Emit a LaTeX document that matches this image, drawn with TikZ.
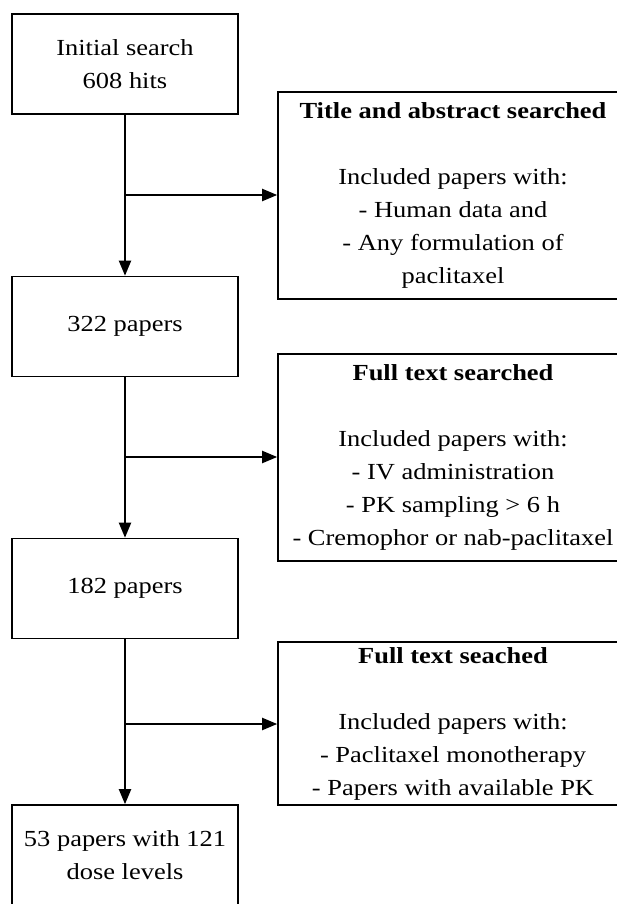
\documentclass[tikz,border=0pt]{standalone}
\usepackage{fontspec}
\setmainfont{Liberation Serif}[FakeStretch=1.15]
\usetikzlibrary{arrows.meta}
\tikzset{
  box/.style={draw=black, line width=1.6pt, rectangle, inner sep=0pt, align=center,
    font=\fontsize{23}{33}\selectfont},
  leftbox/.style={box, minimum width=226pt, minimum height=100pt},
  rightbox/.style={box, minimum width=350pt},
  flow/.style={draw=black, line width=2pt, -{Triangle[length=15pt, width=12pt]}},
}
\begin{document}
\begin{tikzpicture}[x=1pt, y=-1pt]
\useasboundingbox (0,0) rectangle (617,904);
\clip (0,0) rectangle (617,904);
\fill[white] (0,0) rectangle (617,904);

\node[leftbox] (b1) at (125,64) {Initial search\\608 hits};
\node[leftbox] (b2) at (125,326.5) {322 papers};
\node[leftbox] (b3) at (125,588.5) {182 papers};
\node[leftbox] (b4) at (125,855) {53 papers with 121\\dose levels};

\node[rightbox, minimum height=207pt] (r1) at (453,195.5)
  {\textbf{Title and abstract searched}\\[33pt]Included papers with:\\- Human data and\\- Any formulation of\\paclitaxel};
\node[rightbox, minimum height=207pt] (r2) at (453,457.5)
  {\textbf{Full text searched}\\[33pt]Included papers with:\\- IV administration\\- PK sampling > 6 h\\- Cremophor or nab-paclitaxel};
\node[rightbox, minimum height=163pt] (r3) at (453,723.5)
  {\textbf{Full text seached}\\[33pt]Included papers with:\\- Paclitaxel monotherapy\\- Papers with available PK};

\coordinate (j1) at (125,195);
\coordinate (j2) at (125,457);
\coordinate (j3) at (125,724);

\draw[flow] (b1.south) -- (b2.north);
\draw[flow] (b2.south) -- (b3.north);
\draw[flow] (b3.south) -- (b4.north);
\draw[flow] (j1) -- (j1 -| r1.west);
\draw[flow] (j2) -- (j2 -| r2.west);
\draw[flow] (j3) -- (j3 -| r3.west);
\end{tikzpicture}
\end{document}
